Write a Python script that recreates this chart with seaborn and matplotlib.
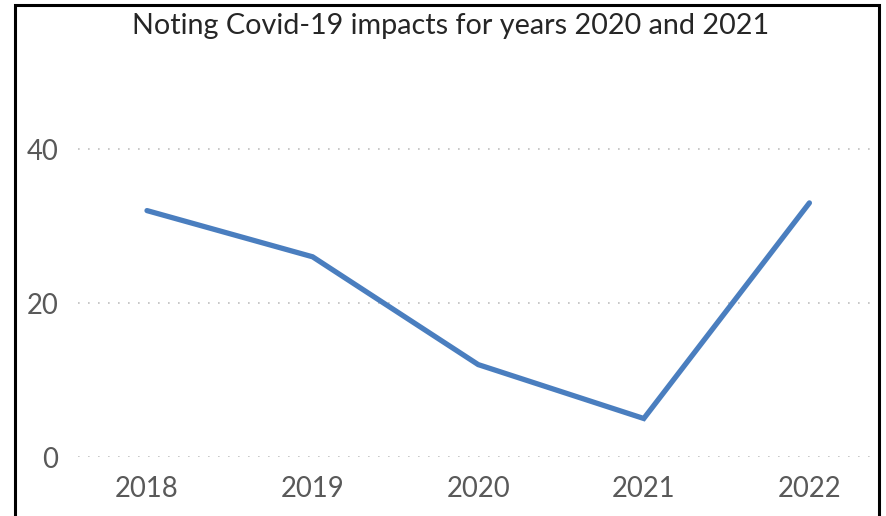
import matplotlib
matplotlib.use("Agg")
import matplotlib.pyplot as plt
import seaborn as sns
import pandas as pd
from matplotlib.patches import Rectangle

years = ["2018", "2019", "2020", "2021", "2022"]
values = [32, 26, 12, 5, 33]
title = "Noting Covid-19 impacts for years 2020 and 2021"
yticks = [0, 20, 40]

sns.set_theme(style="white")
plt.rcParams['font.family'] = ['Lato', 'DejaVu Sans']

df = pd.DataFrame({"year": years, "value": values})

W, H = 887, 516
fig = plt.figure(figsize=(W / 100, H / 100), dpi=100)
ax_left, ax_right = 78, 875
y0_px = 457
px_per_unit = 7.7
ytop = 52
ax_top = y0_px - ytop * px_per_unit
ax = fig.add_axes([ax_left / W, 1 - y0_px / H, (ax_right - ax_left) / W, (y0_px - ax_top) / H])

sns.lineplot(data=df, x="year", y="value", ax=ax, color="#4A7EBF", linewidth=3.8,
             sort=False, solid_joinstyle="miter")

step = 165.6
x_left = (ax_left - 147) / step
x_right = (ax_right - 147) / step
ax.set_xlim(x_left, x_right)
ax.set_ylim(0, ytop)
ax.set_yticks(yticks)
ax.set_yticklabels([str(v) for v in yticks])
for v in yticks:
    ax.axhline(v, color="#BFBFBF", linestyle=(0, (1, 5)), linewidth=1.2, zorder=0)

for s in ax.spines.values():
    s.set_visible(False)
ax.set_xlabel("")
ax.set_ylabel("")
ax.tick_params(axis="both", length=0, labelsize=19.8, colors="#595959")
ax.tick_params(axis="x", pad=14)
ax.tick_params(axis="y", pad=14)
ax.grid(False)

fig.text(451 / W, 1 - 26 / H, title, ha="center", va="center", fontsize=20.7, color="#262626")

fig.patches.append(Rectangle((15 / W, -0.05), (879 - 15) / W, 1 - 5 / H + 0.05,
                             transform=fig.transFigure, fill=False, edgecolor="black",
                             linewidth=2.2, zorder=10))

fig.savefig("out.png", dpi=100, facecolor="white")
